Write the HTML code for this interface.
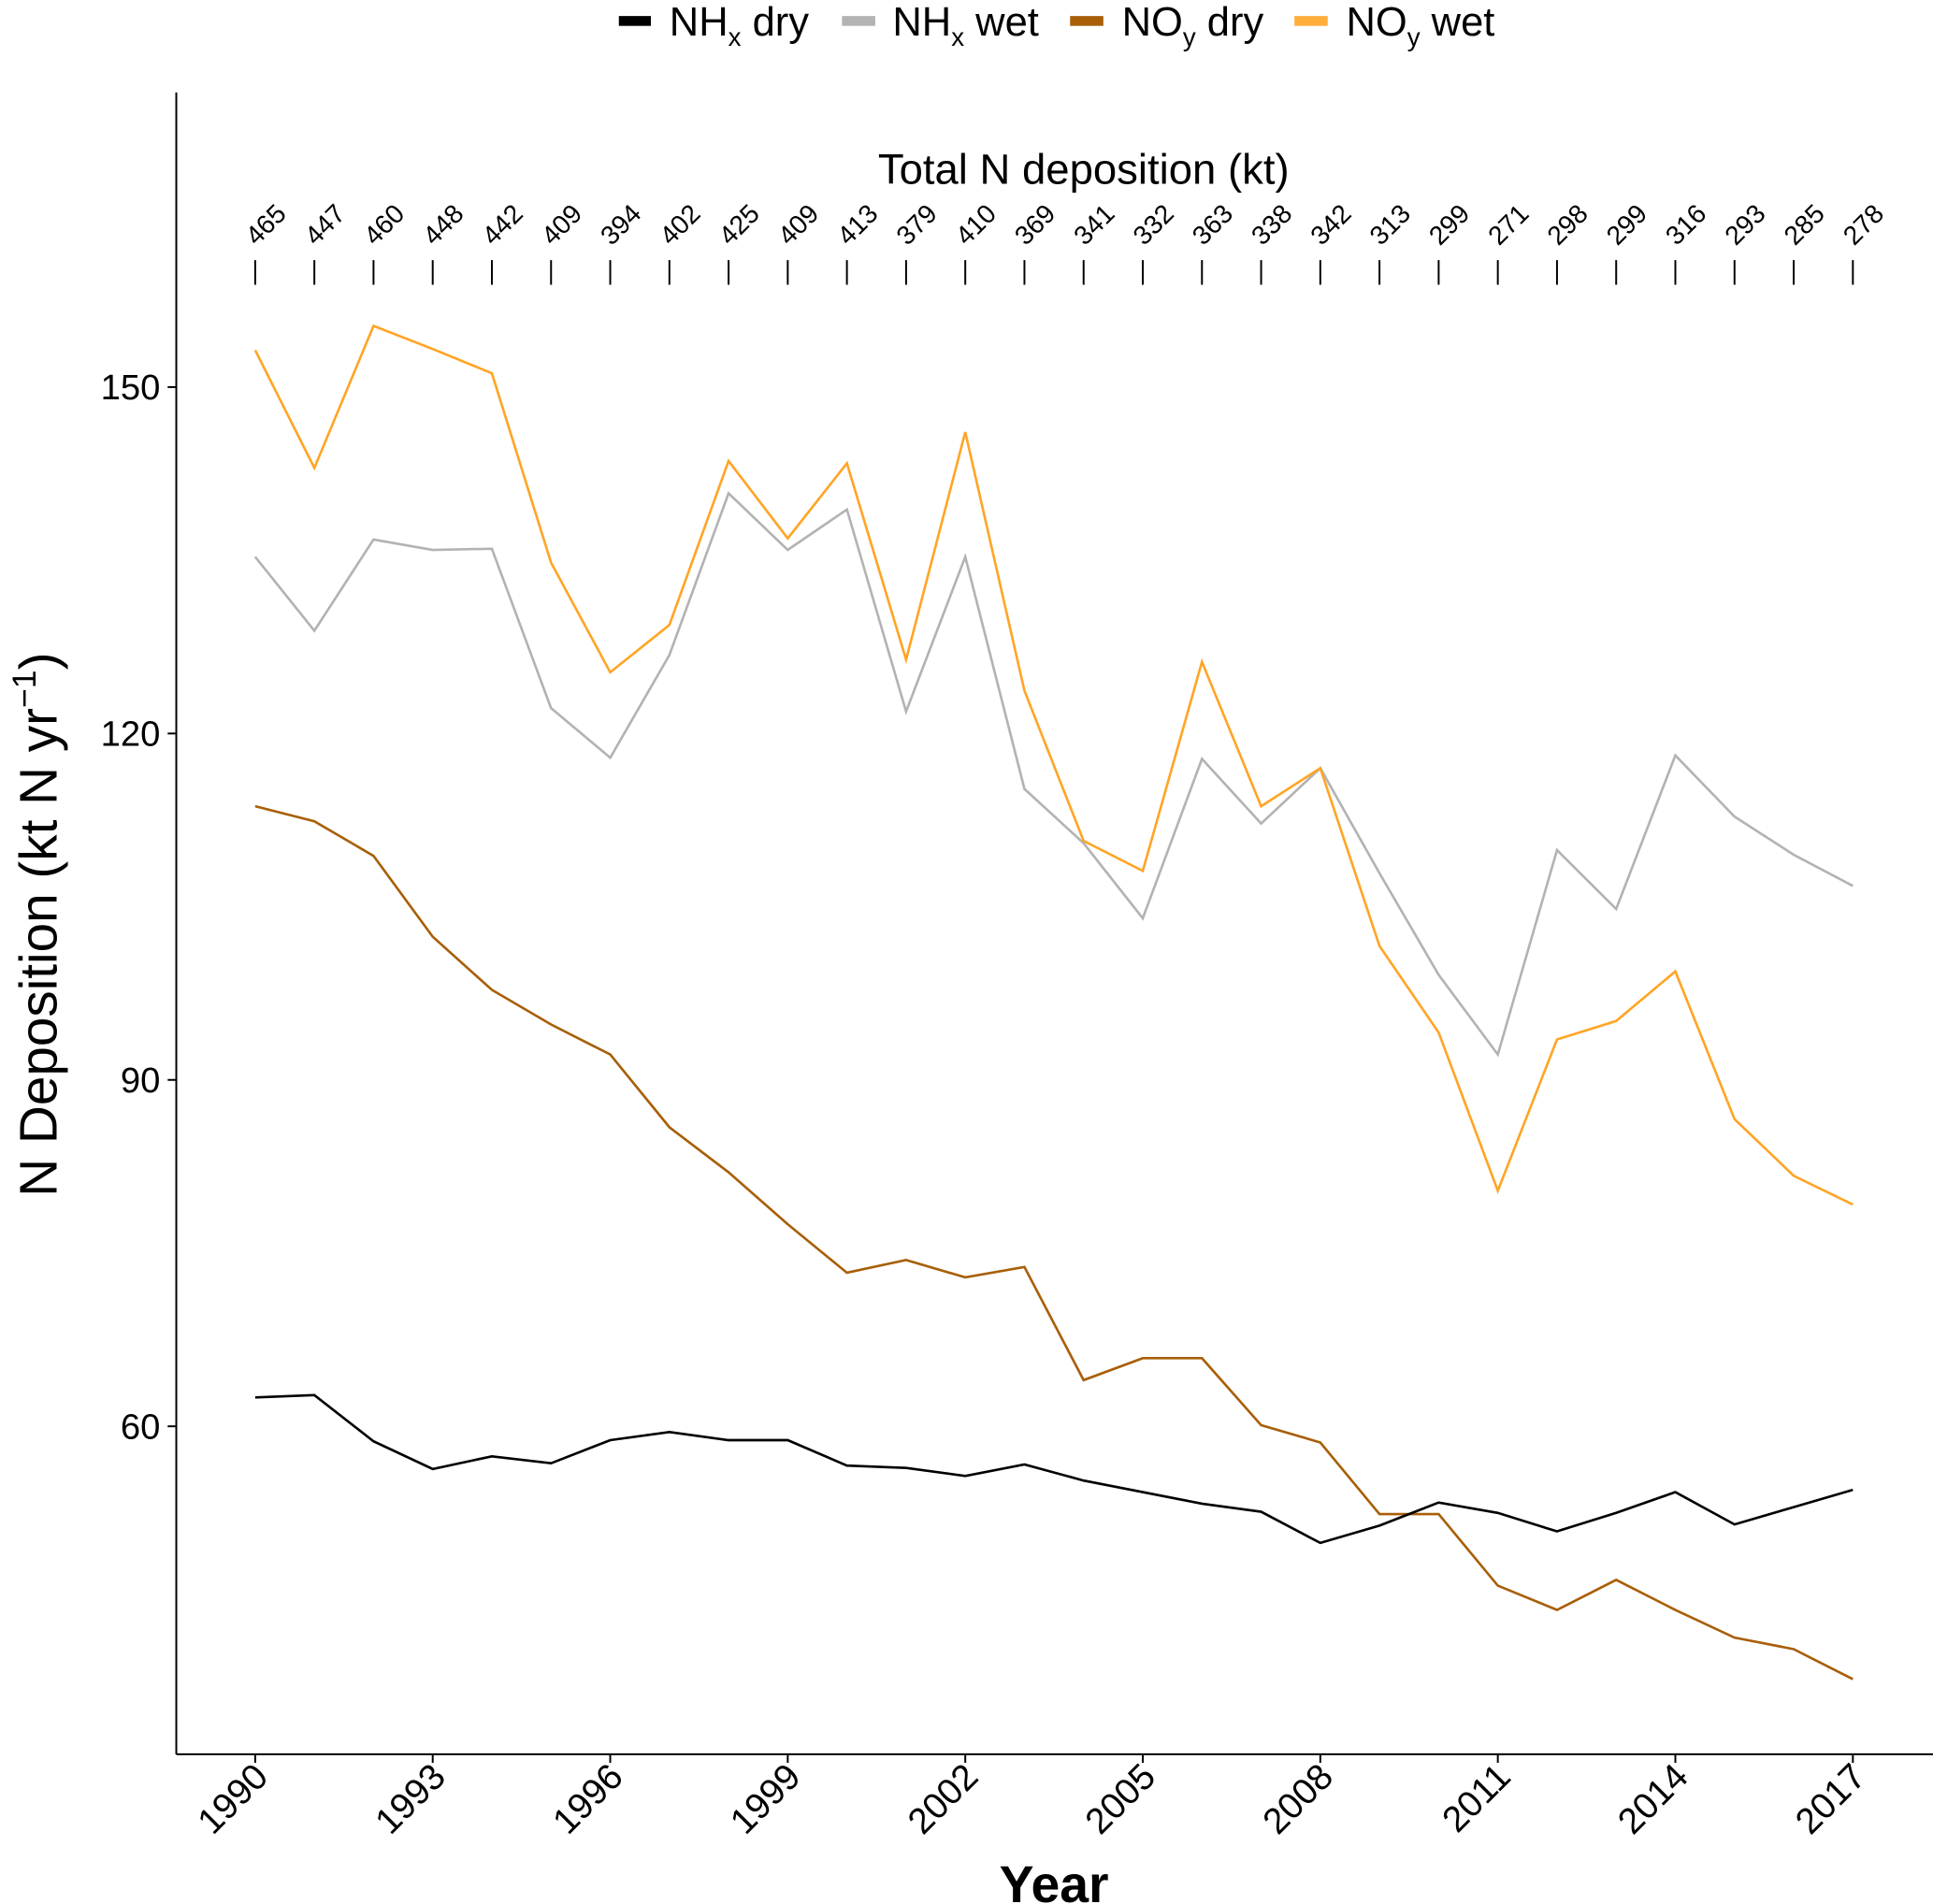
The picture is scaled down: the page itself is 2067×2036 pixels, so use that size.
<!DOCTYPE html>
<html><head><meta charset="utf-8"><style>
html,body{margin:0;padding:0;background:#fff;}
svg{display:block;font-family:"Liberation Sans",Arial,sans-serif;}
</style></head><body>
<svg id="chart" width="2067" height="2036" viewBox="0 0 1568 1544.5" preserveAspectRatio="none" xmlns="http://www.w3.org/2000/svg">
<g id="legend">
 <g><rect x="502" y="13" width="26" height="8" fill="#000"/><text x="543" y="29" font-size="33">NH<tspan font-size="21" dy="8">x</tspan><tspan dy="-8"> dry</tspan></text></g>
 <g><rect x="683" y="13" width="27" height="8" fill="#b3b3b3"/><text x="724" y="29" font-size="33">NH<tspan font-size="21" dy="8">x</tspan><tspan dy="-8"> wet</tspan></text></g>
 <g><rect x="868" y="13" width="27" height="8" fill="#a85f08"/><text x="910" y="29" font-size="33">NO<tspan font-size="21" dy="8">y</tspan><tspan dy="-8"> dry</tspan></text></g>
 <g><rect x="1050" y="13" width="27" height="8" fill="#ffad3b"/><text x="1092" y="29" font-size="33">NO<tspan font-size="21" dy="8">y</tspan><tspan dy="-8"> wet</tspan></text></g>
</g>
<text x="879" y="149" font-size="34.5" text-anchor="middle">Total N deposition (kt)</text>
<g id="totals"></g>
<g id="axes"></g>
<g id="lines"></g>
<text x="855" y="1543" font-size="42" font-weight="bold" text-anchor="middle">Year</text>
<text transform="translate(46,750) rotate(-90)" font-size="43" text-anchor="middle">N Deposition (kt N yr<tspan font-size="27" dy="-17">−1</tspan><tspan dy="17">)</tspan></text>
</svg>
<script>
const years = [1990,1991,1992,1993,1994,1995,1996,1997,1998,1999,2000,2001,2002,2003,2004,2005,2006,2007,2008,2009,2010,2011,2012,2013,2014,2015,2016,2017];
const totals = [465,447,460,448,442,409,394,402,425,409,413,379,410,369,341,332,363,338,342,313,299,271,298,299,316,293,285,278];
const nhxDry = [62.5,62.7,58.7,56.3,57.4,56.8,58.8,59.5,58.8,58.8,56.6,56.4,55.7,56.7,55.3,54.3,53.3,52.6,49.9,51.4,53.4,52.5,50.9,52.5,54.3,51.5,53.0,54.5];
const nhxWet = [135.3,128.9,136.8,135.9,136.0,122.2,117.9,126.8,140.8,135.9,139.4,121.9,135.3,115.2,110.5,104.0,117.8,112.2,117.0,107.9,99.1,92.2,109.9,104.8,118.1,112.8,109.5,106.8];
const noyDry = [113.7,112.4,109.4,102.4,97.8,94.8,92.2,85.9,82.0,77.5,73.3,74.4,72.9,73.8,64.0,65.9,65.9,60.1,58.6,52.4,52.4,46.2,44.1,46.7,44.1,41.7,40.7,38.1];
const noyWet = [153.2,143.0,155.3,153.3,151.2,134.8,125.3,129.4,143.6,136.9,143.4,126.4,146.1,123.7,110.7,108.1,126.2,113.7,117.0,101.6,94.1,80.4,93.5,95.1,99.4,86.6,81.7,79.2];
const yTicks = [60,90,120,150];
const xTicks = [1990,1993,1996,1999,2002,2005,2008,2011,2014,2017];

const NS="http://www.w3.org/2000/svg";
const X = y => 207 + (y-1990)*(1296/27);
const Y = v => 314 + (150-v)*(281/30);
function mk(tag, attrs, parent){const e=document.createElementNS(NS,tag);for(const k in attrs)e.setAttribute(k,attrs[k]);parent.appendChild(e);return e;}
const axes=document.getElementById('axes');
let a=mk('line',{x1:143,y1:75,x2:143,y2:1423,stroke:'#000','stroke-width':1.5},axes);


a=mk('line',{x1:143,y1:1423,x2:1568,y2:1423,stroke:'#000','stroke-width':1.5},axes);


yTicks.forEach(v=>{
 const t=mk('line',{x1:136,x2:143,y1:Y(v),y2:Y(v),stroke:'#000','stroke-width':1.5},axes);
 
 
 const l=mk('text',{x:130,y:Y(v)+10,'font-size':29,'text-anchor':'end'},axes);l.textContent=v;
 
 
});
xTicks.forEach(y=>{
 const t=mk('line',{x1:X(y),x2:X(y),y1:1423,y2:1430,stroke:'#000','stroke-width':1.5},axes);
 
 
 const l=mk('text',{transform:`translate(${X(y)+12},${1443}) rotate(-45)`,'font-size':29.5,'text-anchor':'end'},axes);l.textContent=y;
 
 
});
const tg=document.getElementById('totals');
years.forEach((y,i)=>{
 const t=mk('line',{x1:X(y),x2:X(y),y1:211,y2:231,stroke:'#000','stroke-width':1.5},tg);
 
 
 const l=mk('text',{transform:`translate(${X(y)+1},${200}) rotate(-45)`,'font-size':21.5},tg);l.textContent=totals[i];
 
 
});
const lg=document.getElementById('lines');
[[nhxWet,'#b3b3b3','line-nhx-wet'],[noyWet,'#ffa526','line-noy-wet'],[noyDry,'#a85f08','line-noy-dry'],[nhxDry,'#000','line-nhx-dry']].forEach(([d,c,n])=>{
 const p=mk('polyline',{points:d.map((v,i)=>X(years[i])+','+Y(v)).join(' '),fill:'none',stroke:c,'stroke-width':2},lg);
 
 
});
</script>
</body></html>
